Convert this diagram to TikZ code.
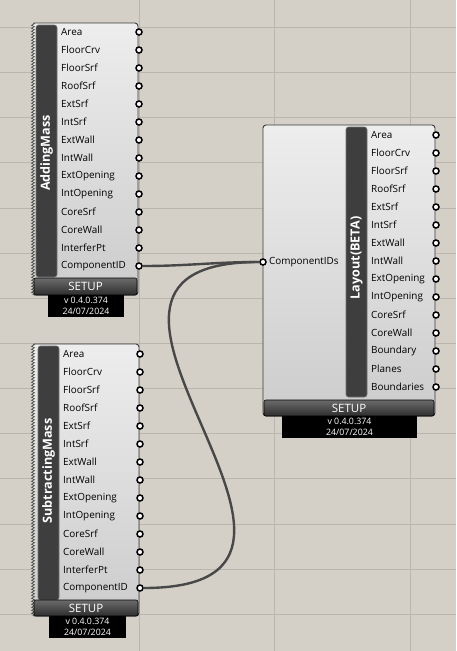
\documentclass[tikz,border=0pt]{standalone}
\usepackage{fontspec}
\setmainfont{Open Sans}
\usetikzlibrary{decorations.pathmorphing}
\definecolor{canvas}{RGB}{212,208,200}
\definecolor{grille}{RGB}{186,182,174}
\definecolor{bord}{RGB}{58,58,58}
\definecolor{barre}{RGB}{62,62,62}
\definecolor{fil}{RGB}{72,72,72}

\begin{document}
\begin{tikzpicture}[x=1pt,y=-1pt,
  corps/.style={top color=white!93!black,bottom color=white!80!black},
  contour/.style={draw=bord,line width=0.9pt,rounded corners=3pt},
  dents/.style={draw=bord,line width=0.6pt,decorate,decoration={zigzag,segment length=3pt,amplitude=1.4pt}},
  nom/.style={fill=barre,draw=white!45!black,line width=0.6pt,rounded corners=2.5pt},
  titre/.style={rotate=90,text=white,font=\fontsize{12.6}{14}\selectfont\bfseries},
  setup/.style={draw=black,line width=0.6pt,rounded corners=2pt,top color=white!42!black,bottom color=white!18!black,
    text=white,font=\fontsize{11.5}{12}\selectfont,inner sep=0pt},
  version/.style={fill=black,text=white,align=center,inner sep=0pt,font=\fontsize{8.8}{10.6}\selectfont},
  sortie/.style={anchor=west,font=\fontsize{9.9}{11}\selectfont,inner sep=0pt},
  grip/.style={circle,draw=black,fill=white,line width=1.5pt,minimum size=6pt,inner sep=0pt},
  fil/.style={draw=fil,line width=2.4pt}]

  \useasboundingbox (0,0) rectangle (456,651);
  \fill[canvas] (0,0) rectangle (456,651);
  % grille du canevas
  \foreach \k in {0,...,13}
    \draw[grille,line width=0.8pt] (0,27.3+45.15*\k) -- (456,27.3+45.15*\k);
  \foreach \x in {139,274.6,410.2}
    \draw[grille,line width=0.8pt] (\x,0) -- (\x,651);

  % AddingMass
  \shade[corps] (33,23) rectangle (138,295);
  \draw[contour] (34,23) -- (138,23) -- (138,295) -- (34,295);
  \draw[dents] (33,23) -- (33,295);
  \draw[nom] (36,25) rectangle (57,277);
  \node[titre] (am-titre) at (46.5,153) {AddingMass};
  \foreach \i/\lab in {0/Area,1/FloorCrv,2/FloorSrf,3/RoofSrf,4/ExtSrf,5/IntSrf,6/ExtWall,7/IntWall,
      8/ExtOpening,9/IntOpening,10/CoreSrf,11/CoreWall,12/InterferPt,13/ComponentID} {
    \node[sortie] (am-l\i) at (61,32+18*\i) {\lab};
    \node[grip] (am-o\i) at (139,32+18*\i) {};
  }
  \node[setup,minimum width=103pt,minimum height=17pt] (am-setup) at (85.5,286.5) {SETUP};
  \node[version,minimum width=76pt,minimum height=22pt] (am-ver) at (86,306) {v 0.4.0.374\\24/07/2024};

  % SubtractingMass
  \shade[corps] (33,344) rectangle (139,616);
  \draw[contour] (34,344) -- (139,344) -- (139,616) -- (34,616);
  \draw[dents] (33,344) -- (33,616);
  \draw[nom] (38,346) rectangle (59,600);
  \node[titre] (sm-titre) at (48.5,471) {SubtractingMass};
  \foreach \i/\lab in {0/Area,1/FloorCrv,2/FloorSrf,3/RoofSrf,4/ExtSrf,5/IntSrf,6/ExtWall,7/IntWall,
      8/ExtOpening,9/IntOpening,10/CoreSrf,11/CoreWall,12/InterferPt,13/ComponentID} {
    \node[sortie] (sm-l\i) at (63,354+18*\i) {\lab};
    \node[grip] (sm-o\i) at (140,354+18*\i) {};
  }
  \node[setup,minimum width=104pt,minimum height=16pt] (sm-setup) at (86,608) {SETUP};
  \node[version,minimum width=77pt,minimum height=22pt] (sm-ver) at (87.5,627) {v 0.4.0.374\\24/07/2024};

  % Layout(BETA)
  \shade[corps,contour] (263,125) rectangle (435,416);
  \draw[nom] (346,127) rectangle (367,397);
  \node[titre] (lay-titre) at (356.5,258) {Layout(BETA)};
  \foreach \i/\lab in {0/Area,1/FloorCrv,2/FloorSrf,3/RoofSrf,4/ExtSrf,5/IntSrf,6/ExtWall,7/IntWall,
      8/ExtOpening,9/IntOpening,10/CoreSrf,11/CoreWall,12/Boundary,13/Planes,14/Boundaries} {
    \node[sortie] (lay-l\i) at (371,135+18*\i) {\lab};
    \node[grip] (lay-o\i) at (436,135+18*\i) {};
  }
  \node[grip] (lay-i) at (263,262) {};
  \node[sortie] (lay-li) at (269,262) {ComponentIDs};
  \node[setup,minimum width=170pt,minimum height=16pt] (lay-setup) at (349,408) {SETUP};
  \node[version,minimum width=135pt,minimum height=22pt] (lay-ver) at (349.5,427) {v 0.4.0.374\\24/07/2024};

  % fils
  \draw[fil] (am-o13) to[out=0,in=180] (lay-i);
  \draw[fil] (sm-o13) .. controls +(260,0) and +(-260,0) .. (lay-i);
\end{tikzpicture}
\end{document}
